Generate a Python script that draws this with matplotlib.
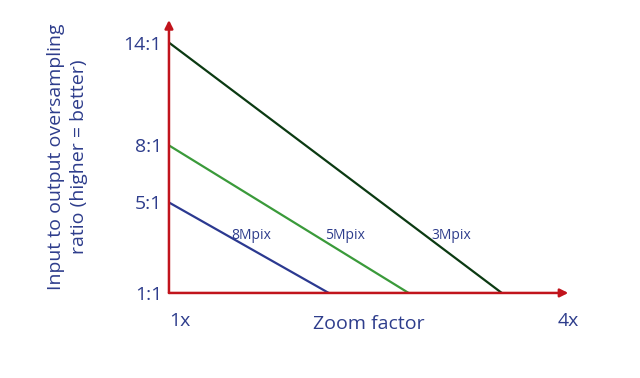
import matplotlib
matplotlib.use('Agg')
import matplotlib.pyplot as plt

# ratio at 1x zoom for each sensor, and the zoom where it drops to 1:1
sensors = ['8Mpix', '5Mpix', '3Mpix']
start_ratio = [5, 8, 14]
end_zoom = [2.2, 2.8, 3.5]
line_colors = ['#2b3990', '#3a9a3a', '#0b3a12']
label_pos = [(1.62, 3.4), (2.32, 3.4), (3.12, 3.4)]

y_ticks = [1, 5, 8, 14]
y_tick_labels = ['1:1', '5:1', '8:1', '14:1']
x_ticks = [1, 4]
x_tick_labels = ['1x', '4x']

text_col = '#2e3d8c'
axis_col = '#c1141c'

plt.rcParams['font.family'] = ['Open Sans', 'DejaVu Sans']

fig = plt.figure(figsize=(6.4, 3.78), dpi=100)
ax = fig.add_axes([0.264, 0.225, 0.624, 0.722])

# slightly compressed vertical scale, like the original sketch
ax.set_yscale('function', functions=(lambda v: v ** 0.8, lambda v: v ** 1.25))
ax.set_xlim(1, 4)
ax.set_ylim(1, 15.4)

for s, r, z, c, p in zip(sensors, start_ratio, end_zoom, line_colors, label_pos):
    ax.plot([1, z], [r, 1], color=c, lw=1.6, solid_capstyle='butt', zorder=3)
    ax.text(p[0], p[1], s, color=text_col, fontsize=10, ha='center', va='center')

for sp in ax.spines.values():
    sp.set_visible(False)

# red arrow axes
ax.annotate('', xy=(1, 0), xycoords='axes fraction', xytext=(0, 0),
            arrowprops=dict(arrowstyle='-|>', color=axis_col, lw=1.8,
                            mutation_scale=12, shrinkA=0, shrinkB=0))
ax.annotate('', xy=(0, 1), xycoords='axes fraction', xytext=(0, 0),
            arrowprops=dict(arrowstyle='-|>', color=axis_col, lw=1.8,
                            mutation_scale=12, shrinkA=0, shrinkB=0))

ax.set_yticks(y_ticks)
ax.set_yticklabels(y_tick_labels)
ax.minorticks_off()
ax.set_xticks(x_ticks)
ax.set_xticklabels(x_tick_labels)
ax.tick_params(length=0, labelsize=14, labelcolor=text_col)
ax.tick_params(axis='y', pad=5)
ax.tick_params(axis='x', pad=14)
ax.get_xticklabels()[0].set_ha('left')

ax.set_xlabel('Zoom factor', fontsize=14, color=text_col, labelpad=-11)
ax.set_ylabel('Input to output oversampling\nratio (higher = better)',
              fontsize=14, color=text_col, labelpad=26, linespacing=1.3)

fig.savefig('out.png', dpi=100)
